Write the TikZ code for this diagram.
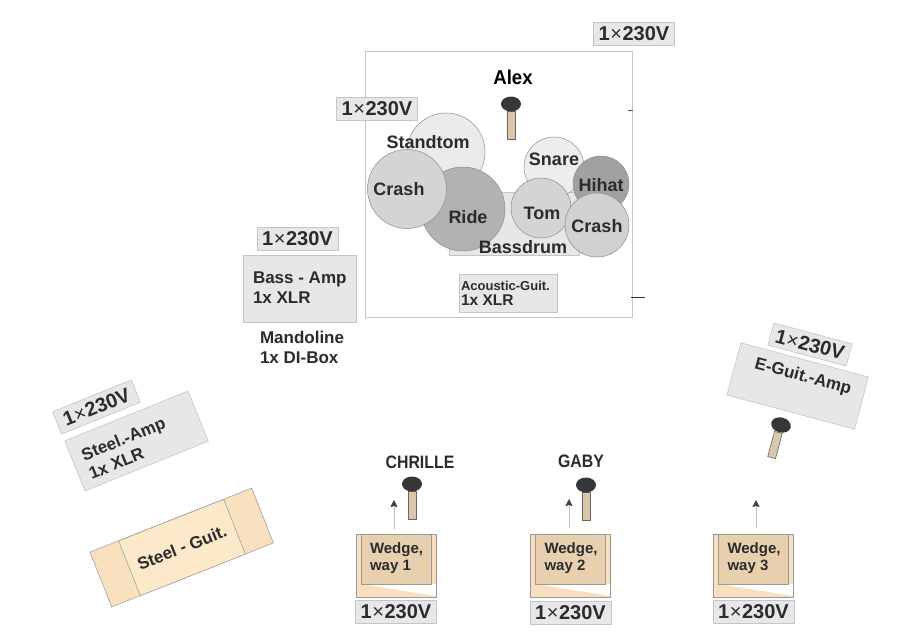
\documentclass[tikz,border=0pt]{standalone}
\usepackage{fontspec}
\setmainfont{Liberation Sans}
\usetikzlibrary{arrows.meta,shapes.geometric}
\definecolor{boxgray}{HTML}{E6E7E8}
\definecolor{boxline}{HTML}{C4C5C7}
\definecolor{inktext}{HTML}{2B2B2D}
\definecolor{sidecream}{HTML}{F8DFBD}
\definecolor{midcream}{HTML}{FBE9C9}
\definecolor{wedgetan}{HTML}{E8D0AF}
\definecolor{handlec}{HTML}{DCC6A8}
\definecolor{headc}{HTML}{37373A}
\newcommand{\pw}{\fontsize{20}{22}\selectfont\bfseries 1{\mdseries\kern.5pt ×\kern.5pt}230V}
\newcommand{\fs}[1]{\fontsize{#1}{#1}\selectfont}
\tikzset{
  every node/.style={inner sep=0pt,outer sep=0pt,text=inktext},
  gbox/.style={draw=boxline,line width=.6pt,fill=boxgray,rectangle},
  power/.style={gbox,minimum width=81pt,minimum height=23pt},
  drum/.style={circle,draw=black!45,line width=.5pt},
  lab/.style={font=\fs{18}\bfseries},
  labcond/.style={font=\fs{18}\bfseries,transform shape,xscale=.88},
  lab17/.style={font=\fs{17}\bfseries,align=left},
  micfh/.style={ellipse,fill=headc,minimum width=20pt,minimum height=15pt},
  handle/.style={rectangle,draw=black!60,line width=.6pt,fill=handlec,minimum width=8pt,minimum height=28pt},
  upar/.style={draw=black!25,line width=.7pt,-{Stealth[color=black!75,length=7pt,width=7pt,inset=1pt]}},
  wedgeouter/.style={rectangle,draw=black!40,line width=.5pt,fill=sidecream,minimum width=80pt,minimum height=63pt},
  wedgeinner/.style={rectangle,draw=black!40,line width=.5pt,fill=wedgetan,minimum width=70pt,minimum height=50pt},
}
\newcommand{\wedgebox}[4]{% name, centre x, label, power y
  \node[wedgeouter] (#1o) at (#2,565.5) {};
  \fill[white] (#2-35,584) -- (#2+40,596) -- (#2+40,584) -- cycle;
  \draw[black!40,line width=.5pt] (#1o.south west) rectangle (#1o.north east);
  \node[wedgeinner] (#1i) at (#2,559) {};
  \node[font=\fs{15}\bfseries,align=left,anchor=west] (#1t) at (#2-26,558) {#3};
  \node[power] (#1p) at (#2,#4) {\pw};
}
\begin{document}
\begin{tikzpicture}[x=1pt,y=-1pt]
\useasboundingbox (0,0) rectangle (906,637);
\fill[white] (0,0) rectangle (906,637);

% stage
\node[rectangle,draw=black!22,line width=.8pt,minimum width=267pt,minimum height=266pt] (stage) at (498.5,184) {};
\draw[black!70,line width=.8pt] (628,110) -- (633,110);
\draw[black!80,line width=1pt] (631,297) -- (645,297);

\node[power] (pwtop) at (634,34) {\pw};
\node[power] (pwleft) at (377,108.5) {\pw};

% Alex
\node[font=\fs{20}\bfseries,text=black,transform shape,xscale=.93] (alex) at (513,77) {Alex};
\node[handle] (alexh) at (511,125) {};
\node[micfh] (alexm) at (511,104) {};

% drums
\node[gbox,minimum width=130pt,minimum height=63pt] (bass) at (514,223.5) {};
\node[drum,fill=black!8,minimum size=78pt] (standtom) at (446,152) {};
\node[drum,fill=black!30,minimum size=84pt] (ride) at (463,209) {};
\node[drum,fill=black!17,minimum size=79pt] (crashl) at (407,189) {};
\node[drum,fill=black!7,minimum size=60pt] (snare) at (554,167) {};
\node[drum,fill=black!37,minimum size=56pt] (hihat) at (601,184) {};
\node[drum,fill=black!17,minimum size=60pt] (tom) at (541,208) {};
\node[drum,fill=black!18,minimum size=64pt] (crashr) at (597,225) {};

\node[lab] (tstand) at (428,142) {Standtom};
\node[lab] (tcrashl) at (399,189) {Crash};
\node[lab] (tride) at (468,217) {Ride};
\node[lab] (tsnare) at (554,159) {Snare};
\node[lab] (thihat) at (601,185) {Hihat};
\node[lab] (ttom) at (542,213) {Tom};
\node[lab] (tcrashr) at (597,226) {Crash};
\node[lab] (tbass) at (523,247) {Bassdrum};

% acoustic
\node[gbox,minimum width=98pt,minimum height=38pt] (acbox) at (508,293) {};
\node[anchor=west,align=left] (actext) at (461,293.5) {{\fs{13}\bfseries Acoustic-Guit.}\\[2.5pt]{\fs{15.5}\bfseries 1x XLR}};

% bass amp
\node[power] (pwbass) at (297.5,239) {\pw};
\node[gbox,minimum width=113pt,minimum height=67pt] (bassamp) at (299.5,288.5) {};
\node[lab17,anchor=west] (basst) at (253,288) {Bass - Amp\\[3pt]1x XLR};
\node[lab17,anchor=west] (mand) at (260,347) {Mandoline\\[3pt]1x DI-Box};

% steel
\node[power,rotate=22,minimum width=85pt,minimum height=24pt] (pwsteel) at (96.5,407) {\pw};
\node[gbox,rotate=22,minimum width=133pt,minimum height=54pt] (steelamp) at (136.5,441) {};
\node[lab17,rotate=22] (steelt) at (127,448) {Steel.-Amp\\[3pt]1x XLR};
\node[rectangle,rotate=21.6,draw=black!40,line width=.5pt,fill=sidecream,minimum width=174pt,minimum height=59pt] (steelg) at (181.7,547.5) {};
\node[rectangle,rotate=21.6,draw=black!40,line width=.5pt,fill=midcream,minimum width=113pt,minimum height=59pt,font=\fs{17}\bfseries] (steelgi) at (182,547.5) {Steel - Guit.};

% e-guitar
\node[gbox,rotate=-15,minimum width=132pt,minimum height=54pt] (eamp) at (797.7,386) {};
\node[power,rotate=-15] (pwe) at (810,344.5) {\pw};
\node[lab17,rotate=-15] (etxt) at (803,377) {E-Guit.-Amp};
\node[handle,rotate=-15,minimum height=26pt] (eh) at (775,445) {};
\node[micfh,rotate=-15] (em) at (781,425) {};

% performers
\node[labcond] (chr) at (420,462) {CHRILLE};
\node[handle] (chrh) at (412,505) {};
\node[micfh] (chrm) at (412,484) {};
\node[labcond] (gaby) at (581,461) {GABY};
\node[handle] (gabh) at (586,506) {};
\node[micfh] (gabm) at (586,485) {};

% wedges
\wedgebox{wa}{396}{Wedge,\\[2pt]way 1}{611.5}
\wedgebox{wb}{570.5}{Wedge,\\[2pt]way 2}{613}
\wedgebox{wc}{753.5}{Wedge,\\[2pt]way 3}{612}

\coordinate (a1) at (394,500);
\coordinate (a2) at (569,499);
\coordinate (a3) at (756,500);
\draw[upar] (a1 |- 0,529) -- (a1);
\draw[upar] (a2 |- 0,528) -- (a2);
\draw[upar] (a3 |- 0,528) -- (a3);
\end{tikzpicture}
\end{document}
